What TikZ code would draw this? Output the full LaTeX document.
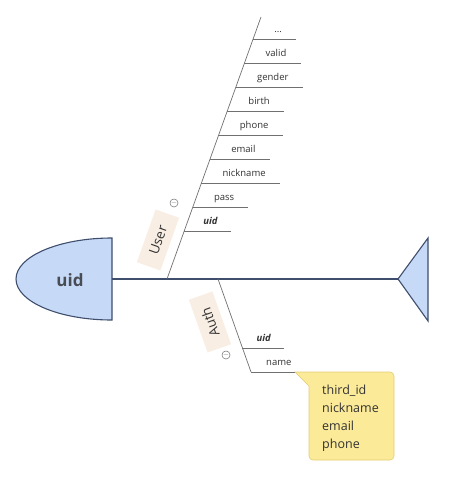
\documentclass[tikz,border=0pt]{standalone}
\usepackage{fontspec}
\setmainfont{Open Sans}
\usepackage{xcolor}
\usepackage{tikz}
\usetikzlibrary{calc}
\definecolor{headcolor}{HTML}{C6DAF7}
\definecolor{spinecolor}{HTML}{3E4E6C}
\definecolor{bonecolor}{HTML}{707070}
\definecolor{tagcolor}{HTML}{F8EEE3}
\definecolor{notecolor}{HTML}{FBEA98}
\definecolor{noteborder}{HTML}{E3CD74}
\definecolor{inkcolor}{HTML}{333333}
\definecolor{headink}{HTML}{4A4C55}
\tikzset{%
  spine/.style={draw=spinecolor, line width=1.1pt},%
  bone/.style={draw=bonecolor, line width=0.7pt},%
  leaf/.style={inner sep=0pt, anchor=base west, text=inkcolor, font=\fontsize{9.5pt}{11pt}\selectfont},%
  tag/.style={fill=tagcolor, minimum width=56pt, minimum height=25pt, inner sep=0pt, text=inkcolor, font=\fontsize{13.5pt}{15pt}\selectfont},%
  fold/.style={circle, draw=bonecolor, line width=0.5pt, minimum size=8pt, inner sep=0pt, text=bonecolor, font=\fontsize{7pt}{7pt}\selectfont},%
}
\begin{document}
\begin{tikzpicture}[x=1pt, y=-1pt]%
\useasboundingbox (0,0) rectangle (448,479);%
% head, tail and spine
\draw[spine, fill=headcolor] (112,238) arc[start angle=270, end angle=90, x radius=96, y radius=41] -- cycle;%
\node[text=headink, font=\fontsize{17pt}{20pt}\selectfont\bfseries] (head) at (70,280) {uid};%
\coordinate (headend) at (112,279);%
\coordinate (tailtip) at (398,279);%
\draw[spine, fill=headcolor] (tailtip) -- (428,238) -- (428,321) -- cycle;%
\draw[spine] (headend) -- (tailtip);%
% User
\coordinate (userroot) at (167,279);%
\coordinate (usertop) at (261,17);%
\draw[bone] (userroot) -- (usertop);%
\node[tag, rotate=70.5] (user) at (158,240) {User};%
\node[fold] (userfold) at (174,203) {$-$};%
\coordinate (u1) at ($(userroot)!0.1832!(usertop)$);%
\coordinate (u2) at ($(userroot)!0.2748!(usertop)$);%
\coordinate (u3) at ($(userroot)!0.3664!(usertop)$);%
\coordinate (u4) at ($(userroot)!0.4580!(usertop)$);%
\coordinate (u5) at ($(userroot)!0.5496!(usertop)$);%
\coordinate (u6) at ($(userroot)!0.6412!(usertop)$);%
\coordinate (u7) at ($(userroot)!0.7328!(usertop)$);%
\coordinate (u8) at ($(userroot)!0.8244!(usertop)$);%
\coordinate (u9) at ($(userroot)!0.9160!(usertop)$);%
\node[leaf] (uuid) at ($(u1)+(19,-7)$) {\textbf{\textit{uid}}};%
\node[leaf] (upass) at ($(u2)+(21,-7)$) {pass};%
\node[leaf] (unick) at ($(u3)+(21,-7)$) {nickname};%
\node[leaf] (uemail) at ($(u4)+(21,-7)$) {email};%
\node[leaf] (uphone) at ($(u5)+(21,-7)$) {phone};%
\node[leaf] (ubirth) at ($(u6)+(21,-7)$) {birth};%
\node[leaf] (ugender) at ($(u7)+(21,-7)$) {gender};%
\node[leaf] (uvalid) at ($(u8)+(21,-7)$) {valid};%
\node[leaf] (umore) at ($(u9)+(21,-7)$) {...};%
\draw[bone] (u1) -- ($(uuid.east |- u1)+(13,0)$);%
\draw[bone] (u2) -- ($(upass.east |- u2)+(14,0)$);%
\draw[bone] (u3) -- ($(unick.east |- u3)+(14,0)$);%
\draw[bone] (u4) -- ($(uemail.east |- u4)+(14,0)$);%
\draw[bone] (u5) -- ($(uphone.east |- u5)+(14,0)$);%
\draw[bone] (u6) -- ($(ubirth.east |- u6)+(14,0)$);%
\draw[bone] (u7) -- ($(ugender.east |- u7)+(14,0)$);%
\draw[bone] (u8) -- ($(uvalid.east |- u8)+(14,0)$);%
\draw[bone] (u9) -- ($(umore.east |- u9)+(14,0)$);%
% Auth
\coordinate (authroot) at (218,279);%
\coordinate (authend) at (251,372);%
\draw[bone] (authroot) -- (authend);%
\node[tag, rotate=109.5] (auth) at (210,322) {Auth};%
\node[fold] (authfold) at (226,355) {$-$};%
\coordinate (a1) at ($(authroot)!0.742!(authend)$);%
\node[leaf] (auid) at ($(a1)+(14,-7)$) {\textbf{\textit{uid}}};%
\draw[bone] (a1) -- ($(auid.east |- a1)+(13,0)$);%
\node[leaf] (aname) at ($(authend)+(15,-7)$) {name};%
\coordinate (nameend) at (295,372);%
\draw[bone] (authend) -- (nameend);%
% note
\draw[draw=noteborder, fill=notecolor, line width=0.6pt] (309,386) -- (nameend) [rounded corners=4pt] -- (394,372) -- (394,460) -- (309,460) [sharp corners] -- cycle;%
\node[inner sep=0pt, anchor=north west, align=left, text=inkcolor, font=\fontsize{12.5pt}{18pt}\selectfont] (note) at (322,385) {third\_id\\nickname\\email\\phone};%
\end{tikzpicture}
\end{document}
